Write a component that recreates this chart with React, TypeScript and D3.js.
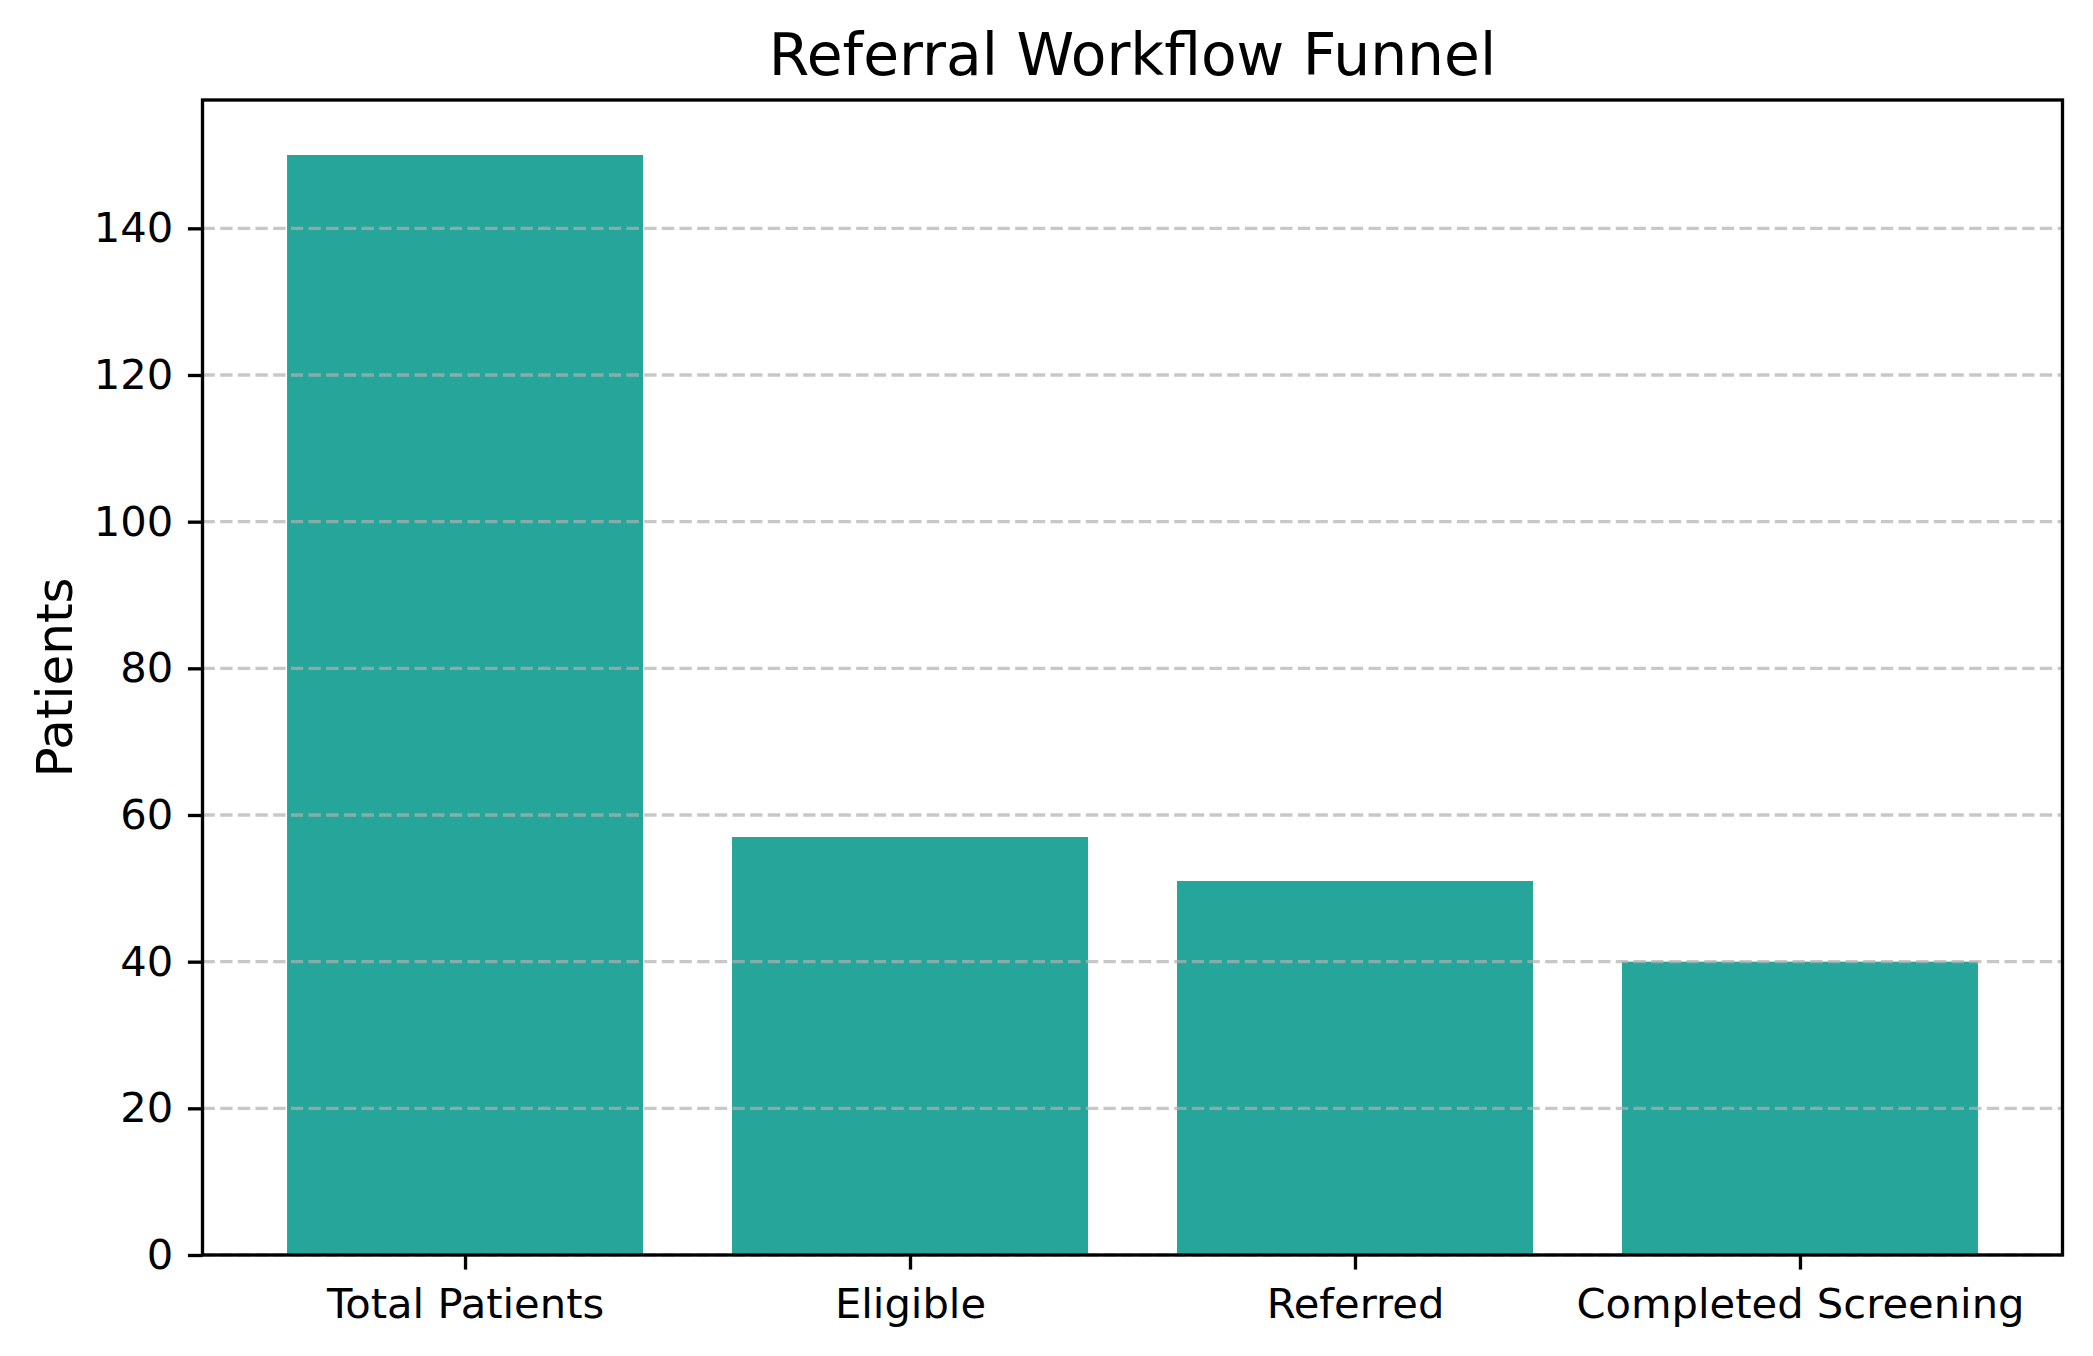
import { useEffect, useRef } from 'react';
import * as d3 from 'd3';

// ==========================================
// DATA
// ==========================================
const stages = ['Total Patients', 'Eligible', 'Referred', 'Completed Screening'];
const patients = [150, 57, 51, 40];
const yTicks = [0, 20, 40, 60, 80, 100, 120, 140];

const App = () => {
    const svgRef = useRef<SVGSVGElement>(null);

    useEffect(() => {
        d3.select(svgRef.current).selectAll('*').remove();

        // ==========================================
        // SVG SETUP
        // ==========================================
        const width = 2093;
        const height = 1356;
        const margin = { top: 100, right: 30.5, bottom: 101, left: 202.5 };
        const font = '"DejaVu Sans", sans-serif';
        const pt = 300 / 72;

        const svg = d3
            .select(svgRef.current)
            .attr('width', width)
            .attr('height', height)
            .style('position', 'absolute')
            .style('left', '0px')
            .style('top', '0px')
            .style('background', '#ffffff');

        // ==========================================
        // SCALES
        // ==========================================
        const barWidth = 0.8;
        const pad = (stages.length - 1 + barWidth) * 0.05;
        const xScale = d3
            .scaleLinear()
            .domain([-barWidth / 2 - pad, stages.length - 1 + barWidth / 2 + pad])
            .range([margin.left, width - margin.right]);

        const yMax = d3.max(patients) as number;
        const yScale = d3
            .scaleLinear()
            .domain([0, yMax * 1.05])
            .range([height - margin.bottom, margin.top]);

        // ==========================================
        // BARS
        // ==========================================
        svg.append('g')
            .selectAll('rect')
            .data(patients)
            .enter()
            .append('rect')
            .attr('x', (d, i) => xScale(i - barWidth / 2))
            .attr('y', d => yScale(d))
            .attr('width', (d, i) => xScale(i + barWidth / 2) - xScale(i - barWidth / 2))
            .attr('height', d => yScale(0) - yScale(d))
            .attr('fill', '#26a69a');

        // ==========================================
        // GRID (drawn over bars)
        // ==========================================
        svg.append('g')
            .selectAll('line')
            .data(yTicks)
            .enter()
            .append('line')
            .attr('x1', margin.left)
            .attr('x2', width - margin.right)
            .attr('y1', d => yScale(d))
            .attr('y2', d => yScale(d))
            .attr('stroke', '#b0b0b0')
            .attr('stroke-opacity', 0.7)
            .attr('stroke-width', 0.8 * pt)
            .attr('stroke-dasharray', `${2.96 * pt} ${1.28 * pt}`);

        // ==========================================
        // AXES
        // ==========================================
        const yAxis = d3
            .axisLeft(yScale)
            .tickValues(yTicks)
            .tickSize(3.5 * pt)
            .tickPadding(3.5 * pt)
            .tickSizeOuter(0);

        const xAxis = d3
            .axisBottom(d3.scaleLinear().domain(xScale.domain()).range(xScale.range()))
            .tickValues(stages.map((s, i) => i))
            .tickFormat((d) => stages[d as number])
            .tickSize(3.5 * pt)
            .tickPadding(3.5 * pt)
            .tickSizeOuter(0);

        const gy = svg.append('g')
            .attr('transform', `translate(${margin.left},0)`)
            .call(yAxis);

        const gx = svg.append('g')
            .attr('transform', `translate(0,${height - margin.bottom})`)
            .call(xAxis);

        [gx, gy].forEach(g => {
            g.select('.domain').remove();
            g.selectAll('.tick line')
                .attr('stroke', '#000')
                .attr('stroke-width', 0.8 * pt);
            g.selectAll('.tick text')
                .attr('fill', '#000')
                .style('font-family', font)
                .style('font-size', `${10 * pt}px`);
        });

        gx.selectAll('.tick text').attr('dy', '0.8em');

        // spines
        svg.append('rect')
            .attr('x', margin.left)
            .attr('y', margin.top)
            .attr('width', width - margin.right - margin.left)
            .attr('height', height - margin.bottom - margin.top)
            .attr('fill', 'none')
            .attr('stroke', '#000')
            .attr('stroke-width', 0.8 * pt);

        // ==========================================
        // LABELS
        // ==========================================
        svg.append('text')
            .attr('x', (margin.left + width - margin.right) / 2)
            .attr('y', margin.top - 6 * pt)
            .style('text-anchor', 'middle')
            .style('font-family', font)
            .style('font-size', `${14 * pt}px`)
            .text('Referral Workflow Funnel');

        svg.append('text')
            .attr('transform', `translate(72,${(margin.top + height - margin.bottom) / 2}) rotate(-90)`)
            .style('text-anchor', 'middle')
            .style('font-family', font)
            .style('font-size', `${12 * pt}px`)
            .text('Patients');
    }, []);

    return (
        <div>
            <svg ref={svgRef}></svg>
        </div>
    );
};

export default App;
